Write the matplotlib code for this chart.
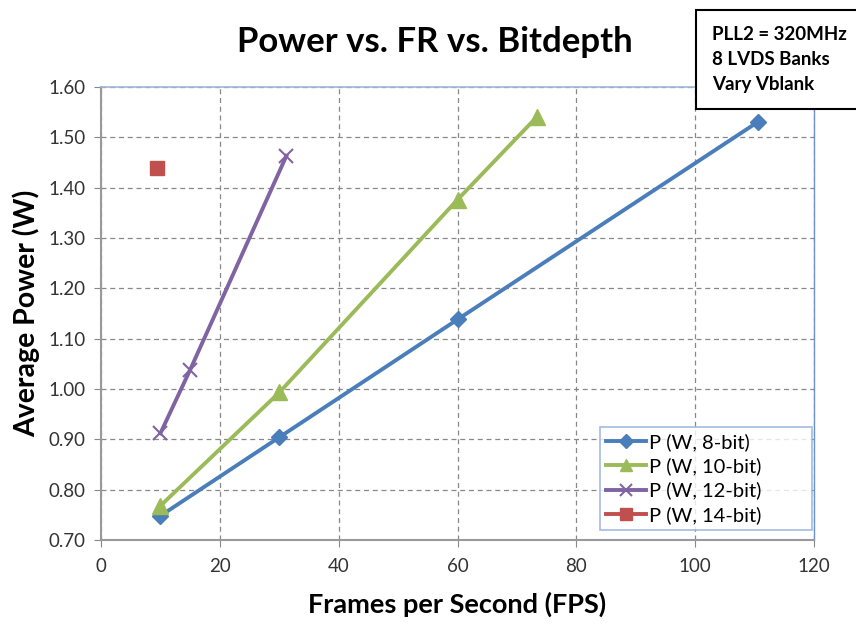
import matplotlib
matplotlib.use("Agg")
import matplotlib.pyplot as plt
from matplotlib.lines import Line2D

plt.rcParams['font.family'] = ['Lato', 'DejaVu Sans']

fps_8 = [10, 30, 60, 110.5]
pw_8 = [0.748, 0.904, 1.138, 1.530]
fps_10 = [10, 30, 60, 73.4]
pw_10 = [0.768, 0.993, 1.376, 1.541]
fps_12 = [10, 15, 31.2]
pw_12 = [0.912, 1.038, 1.463]
fps_14 = [9.5]
pw_14 = [1.438]

labels = ["P (W, 8-bit)", "P (W, 10-bit)", "P (W, 12-bit)", "P (W, 14-bit)"]
colors = ["#4a7ebb", "#9bbb59", "#8064a2", "#c0504d"]
xticks = [0, 20, 40, 60, 80, 100, 120]
yticks = [0.70, 0.80, 0.90, 1.00, 1.10, 1.20, 1.30, 1.40, 1.50, 1.60]

fig = plt.figure(figsize=(8.56, 6.25), dpi=100)
ax = fig.add_axes([0.118, 0.136, 0.833, 0.725])

ax.plot(fps_8, pw_8, color=colors[0], lw=2.8, marker='D', ms=8, label=labels[0], zorder=3)
ax.plot(fps_10, pw_10, color=colors[1], lw=2.8, marker='^', ms=11, label=labels[1], zorder=3)
ax.plot(fps_12, pw_12, color=colors[2], lw=2.8, marker='x', ms=10, mew=1.5, label=labels[2], zorder=3)
ax.plot(fps_14, pw_14, color=colors[3], lw=2.8, marker='s', ms=10, ls='none', label=labels[3], zorder=3)

ax.set_xlim(0, 120)
ax.set_ylim(0.70, 1.60)
ax.set_xticks(xticks)
ax.set_yticks(yticks)
ax.set_yticklabels([f"{v:.2f}" for v in yticks])
ax.tick_params(axis='both', labelsize=13.5, colors='#333333', direction='out', length=5, color='#888888')
ax.tick_params(axis='x', pad=8)
ax.tick_params(axis='y', pad=6)
ax.grid(True, ls=(0, (4, 3)), color='#888888', lw=0.9)
ax.set_axisbelow(True)
for s in ['left', 'bottom']:
    ax.spines[s].set_color('#999999')
    ax.spines[s].set_linewidth(1.5)
ax.spines['top'].set_color('#9fb7da')
ax.spines['right'].set_color('#6d93c8')
ax.spines['top'].set_linewidth(1.2)
ax.spines['right'].set_linewidth(1.0)

ax.set_xlabel("Frames per Second (FPS)", fontsize=19.5, fontweight='bold', labelpad=12)
ax.set_ylabel("Average Power (W)", fontsize=20.5, fontweight='bold', labelpad=6)
fig.text(0.508, 0.932, "Power vs. FR vs. Bitdepth", fontsize=25, fontweight='bold', ha='center', va='center')

handles = [
    Line2D([], [], color=colors[0], lw=2.8, marker='D', ms=7),
    Line2D([], [], color=colors[1], lw=2.8, marker='^', ms=9),
    Line2D([], [], color=colors[2], lw=2.8, marker='x', ms=9, mew=1.5),
    Line2D([], [], color=colors[3], lw=2.8, marker='s', ms=8),
]
leg = ax.legend(handles, labels, loc='lower left', bbox_to_anchor=(0.700, 0.022, 0.297, 0.225),
                mode='expand', fontsize=14.5,
                frameon=True, fancybox=False, handlelength=2.0, handletextpad=0.15,
                borderpad=0.3, labelspacing=0.32, borderaxespad=0.0)
leg.get_frame().set_edgecolor('#8eaad8')
leg.get_frame().set_linewidth(1.2)

fig.text(0.832, 0.958, "PLL2 = 320MHz\n8 LVDS Banks\nVary Vblank", fontsize=13.5, fontweight='bold',
         ha='left', va='top', linespacing=1.55,
         bbox=dict(boxstyle='square,pad=0.85', fc='white', ec='black', lw=1.5))

fig.savefig("out.png", dpi=100)
